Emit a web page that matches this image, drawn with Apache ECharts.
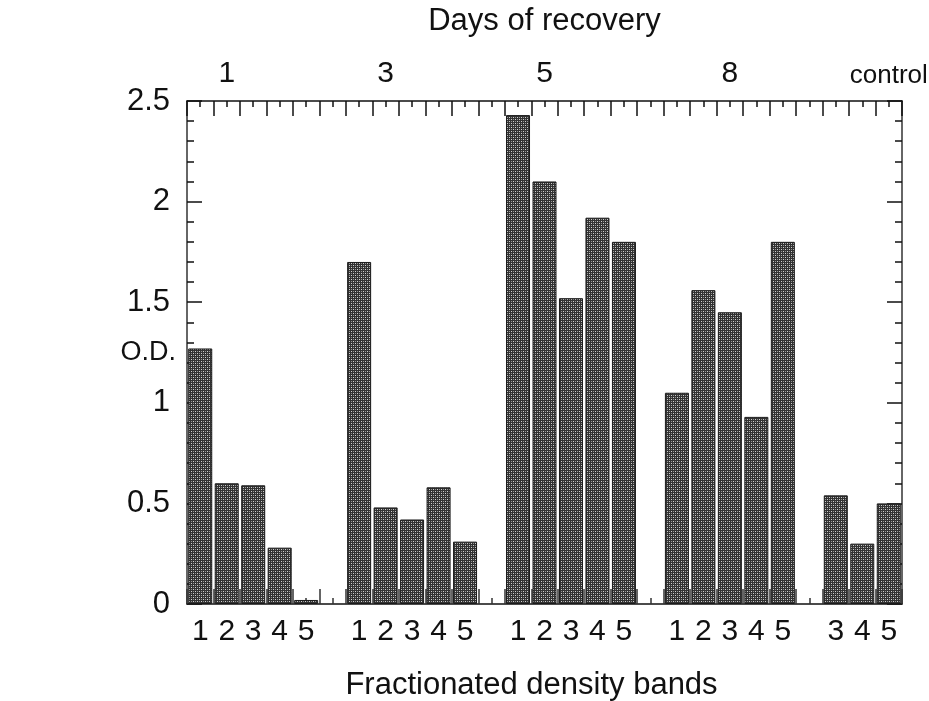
<!DOCTYPE html>
<html>
<head>
<meta charset="utf-8">
<script src="https://cdn.jsdelivr.net/npm/echarts@6/dist/echarts.min.js"></script>
<style>
  html, body { margin: 0; padding: 0; background: #fff; }
  #chart { width: 929px; height: 701px; }
</style>
</head>
<body>
<div id="chart"></div>
<script>
// Optical density of fractionated density bands after N days of recovery
const day1 = [1.27, 0.60, 0.59, 0.28, 0.02];
const day3 = [1.70, 0.48, 0.42, 0.58, 0.31];
const day5 = [2.43, 2.10, 1.52, 1.92, 1.80];
const day8 = [1.05, 1.56, 1.45, 0.93, 1.80];
const control = [0.54, 0.30, 0.50]; // bands 3, 4, 5

const bandsFull = ['1', '2', '3', '4', '5'];
const bandsControl = ['3', '4', '5'];
const dayNames = ['1', '3', '5', '8', 'control'];
const yTicks = ['0', '0.5', '1', '1.5', '2', '2.5'];

// one empty slot separates each group of bars
const groups = [
  { day: dayNames[0], bands: bandsFull, values: day1, labelAt: 1 },
  { day: dayNames[1], bands: bandsFull, values: day3, labelAt: 1 },
  { day: dayNames[2], bands: bandsFull, values: day5, labelAt: 1 },
  { day: dayNames[3], bands: bandsFull, values: day8, labelAt: 2 },
  { day: dayNames[4], bands: bandsControl, values: control, labelAt: 2 }
];
const bandLabels = [];
const dayLabels = [];
const odValues = [];
groups.forEach((g, gi) => {
  if (gi > 0) { bandLabels.push(''); dayLabels.push(''); odValues.push(null); }
  g.bands.forEach((b, i) => {
    bandLabels.push(b);
    dayLabels.push(i === g.labelAt ? g.day : '');
    odValues.push(g.values[i]);
  });
});

// stippled fill for the bars
function stipple() {
  const c = document.createElement('canvas');
  c.width = 4; c.height = 4;
  const ctx = c.getContext('2d');
  ctx.fillStyle = '#323232';
  ctx.fillRect(0, 0, 4, 4);
  ctx.fillStyle = '#d0d0d0';
  ctx.fillRect(1, 1, 1, 1);
  ctx.fillRect(3, 3, 1, 1);
  ctx.fillStyle = '#949494';
  ctx.fillRect(1, 3, 1, 1);
  ctx.fillRect(3, 1, 1, 1);
  return c;
}

const FONT = '"Liberation Sans", Arial, Helvetica, sans-serif';
const INK = '#111';

const chart = echarts.init(document.getElementById('chart'), null, { renderer: 'canvas' });

const catBase = {
  type: 'category',
  data: bandLabels,
  boundaryGap: true,
  nameMoveOverlap: false,
  splitLine: { show: false }
};

chart.setOption({
  animation: false,
  backgroundColor: '#fff',
  grid: { left: 187, right: 27, top: 101, bottom: 97, containLabel: false, outerBoundsMode: 'none' },
  xAxis: [
    Object.assign({}, catBase, {
      position: 'bottom',
      name: 'Fractionated density bands',
      nameLocation: 'middle',
      nameGap: 66,
      nameTextStyle: { fontFamily: FONT, fontSize: 31, color: INK, padding: [0, 26, 0, 0] },
      axisLine: { show: true, lineStyle: { color: INK, width: 1.5 } },
      axisTick: { show: true, inside: true, length: 15, interval: 0, alignWithLabel: false, lineStyle: { color: '#333', width: 1.5 } },
      axisLabel: { show: true, interval: 0, fontFamily: FONT, fontSize: 30, color: INK, margin: 13 }
    }),
    Object.assign({}, catBase, {
      position: 'bottom',
      axisLine: { show: false },
      axisTick: { show: true, inside: true, length: 6, interval: 0, alignWithLabel: true, lineStyle: { color: '#333', width: 1.5 } },
      axisLabel: { show: false }
    }),
    Object.assign({}, catBase, {
      data: dayLabels,
      position: 'top',
      name: 'Days of recovery',
      nameLocation: 'middle',
      nameGap: 64,
      nameTextStyle: { fontFamily: FONT, fontSize: 31, color: INK },
      axisLine: { show: true, lineStyle: { color: INK, width: 1.5 } },
      axisTick: { show: true, inside: true, length: 15, interval: 0, alignWithLabel: false, lineStyle: { color: INK, width: 1.5 } },
      axisLabel: {
        show: true, interval: 0, fontFamily: FONT, fontSize: 30, color: INK, margin: 12,
        rich: { small: { fontFamily: FONT, fontSize: 26, color: INK } },
        formatter: (v) => v === dayNames[4] ? '{small|' + v + '}' : v
      }
    }),
    Object.assign({}, catBase, {
      data: dayLabels,
      position: 'top',
      axisLine: { show: false },
      axisTick: { show: true, inside: true, length: 6, interval: 0, alignWithLabel: true, lineStyle: { color: INK, width: 1.5 } },
      axisLabel: { show: false }
    })
  ],
  yAxis: [
    {
      type: 'value', position: 'left', min: 0, max: 2.5, interval: 0.5,
      name: 'O.D.', nameLocation: 'middle', nameRotate: 0, nameGap: 11, nameMoveOverlap: false,
      nameTextStyle: { fontFamily: FONT, fontSize: 27, color: INK, align: 'right' },
      axisLine: { show: true, lineStyle: { color: '#333', width: 1.5 } },
      axisTick: { show: true, inside: true, length: 15, lineStyle: { color: INK, width: 1.5 } },
      minorTick: { show: true, splitNumber: 5, length: 7, lineStyle: { color: INK, width: 1.5 } },
      splitLine: { show: false },
      axisLabel: {
        fontFamily: FONT, fontSize: 31, color: INK, margin: 17,
        formatter: (v) => yTicks[Math.round(v / 0.5)]
      }
    },
    {
      type: 'value', position: 'right', min: 0, max: 2.5, interval: 0.5,
      axisLine: { show: true, lineStyle: { color: '#333', width: 1.5 } },
      axisTick: { show: true, inside: true, length: 15, lineStyle: { color: INK, width: 1.5 } },
      minorTick: { show: true, splitNumber: 5, length: 7, lineStyle: { color: INK, width: 1.5 } },
      splitLine: { show: false },
      axisLabel: { show: false }
    }
  ],
  series: [
    {
      type: 'bar',
      xAxisIndex: 0,
      yAxisIndex: 0,
      data: odValues,
      barWidth: 24,
      itemStyle: {
        color: { image: stipple(), repeat: 'repeat' },
        borderColor: '#1a1a1a',
        borderWidth: 1
      }
    }
  ]
});
</script>
</body>
</html>
